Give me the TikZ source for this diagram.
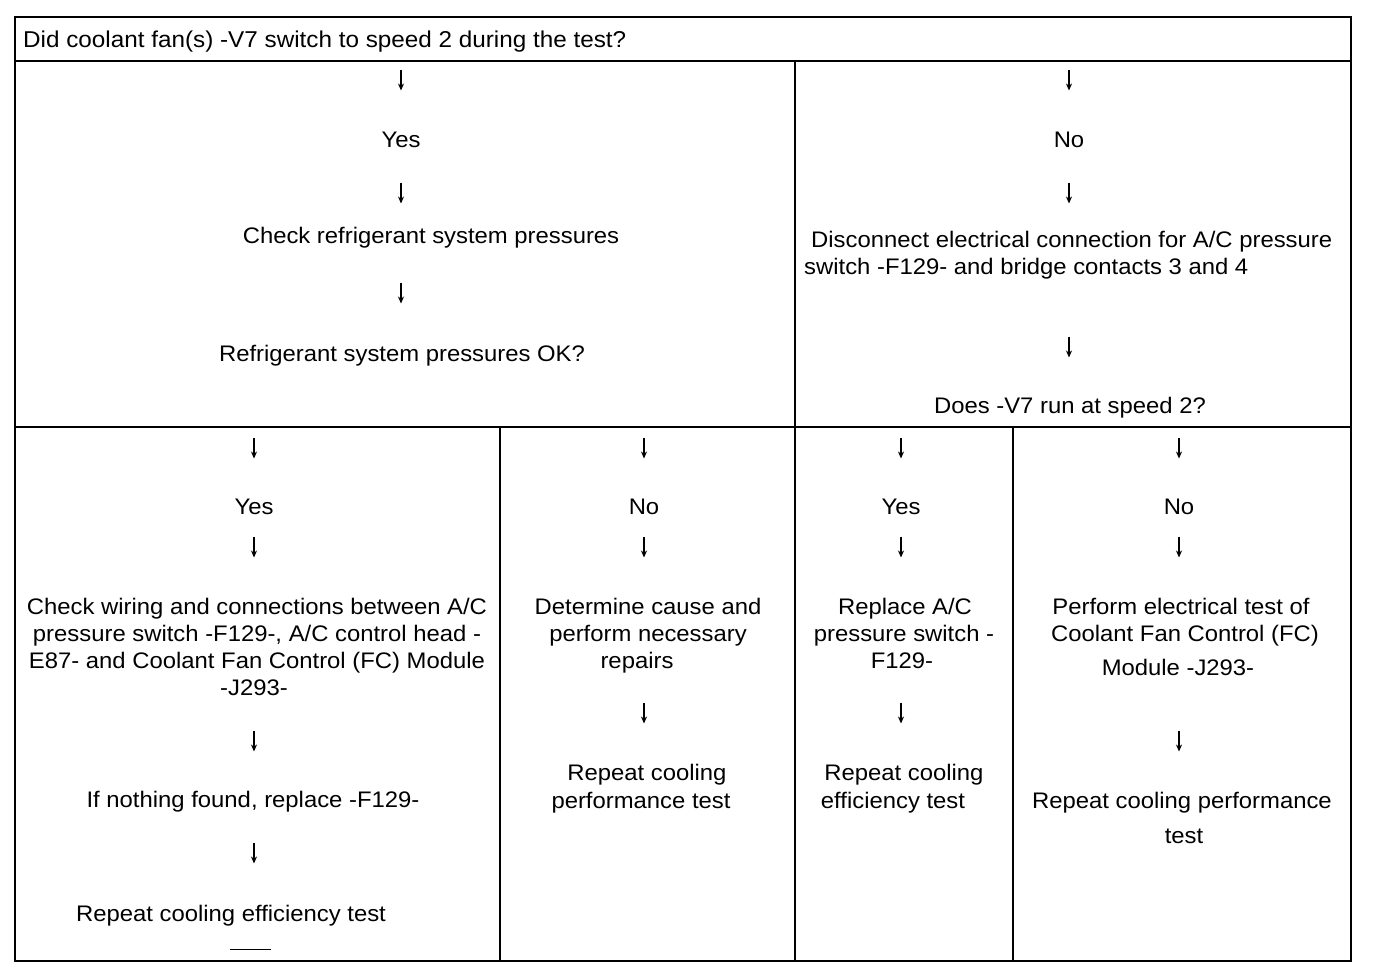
\documentclass[tikz,border=0pt]{standalone}
\usepackage{fontspec}
\setmainfont[FakeStretch=1.06]{Liberation Sans}
\usetikzlibrary{arrows.meta}
\tikzset{
  grid/.style={line width=2.8pt, line cap=rect},
  tx/.style={anchor=base, inner sep=0pt, font=\fontsize{22.5}{26}\selectfont},
  txw/.style={tx, anchor=base west},
  darr/.style={minimum width=10pt, minimum height=21pt, inner sep=0pt,
    path picture={\draw[line width=1.3pt,-{Stealth[length=7pt,width=6pt]}]
      (path picture bounding box.north) -- (path picture bounding box.south);}},
}
\begin{document}
\begin{tikzpicture}[x=1pt,y=-1pt]
\useasboundingbox (0,0) rectangle (1392,978);
% table frame
\draw[grid] (15,17) rectangle (1351,961);
\draw[grid] (15,61) -- (1351,61);
\draw[grid] (15,427) -- (1351,427);
\draw[grid] (795,61) -- (795,961);
\draw[grid] (500,427) -- (500,961);
\draw[grid] (1013,427) -- (1013,961);
\draw[line width=1pt] (230,949) -- (271,949);
% header
\node[txw, font=\fontsize{22.9}{26}\selectfont] (hdr) at (23,47) {Did coolant fan(s) -V7 switch to speed 2 during the test?};
% top left
\node[darr] (tl1) at (401,80) {};
\node[tx] (tlyes) at (401,147) {Yes};
\node[darr] (tl2) at (401,193) {};
\node[tx] (tlchk) at (431,243) {Check refrigerant system pressures};
\node[darr] (tl3) at (401,293) {};
\node[tx] (tlok) at (402,361) {Refrigerant system pressures OK?};
% top right
\node[darr] (tr1) at (1069,80) {};
\node[tx] (trno) at (1069,147) {No};
\node[darr] (tr2) at (1069,193) {};
\node[txw] (trd1) at (811,247) {Disconnect electrical connection for A/C pressure};
\node[txw] (trd2) at (804,274) {switch -F129- and bridge contacts 3 and 4};
\node[darr] (tr3) at (1069,347) {};
\node[tx] (trq) at (1070,413) {Does -V7 run at speed 2?};
% cell A
\node[darr] (a1) at (254,448) {};
\node[tx] (ayes) at (254,514) {Yes};
\node[darr] (a2) at (254,547) {};
\node[tx] (aw1) at (257,614) {Check wiring and connections between A/C};
\node[tx] (aw2) at (257,641) {pressure switch -F129-, A/C control head -};
\node[tx] (aw3) at (257,668) {E87- and Coolant Fan Control (FC) Module};
\node[tx] (aw4) at (254,695) {-J293-};
\node[darr] (a3) at (254,741) {};
\node[tx] (anf) at (253,807) {If nothing found, replace -F129-};
\node[darr] (a4) at (254,853) {};
\node[tx] (arep) at (231,921) {Repeat cooling efficiency test};
% cell B
\node[darr] (b1) at (644,448) {};
\node[tx] (bno) at (644,514) {No};
\node[darr] (b2) at (644,547) {};
\node[tx] (bd1) at (648,614) {Determine cause and};
\node[tx] (bd2) at (648,641) {perform necessary};
\node[tx] (bd3) at (637,668) {repairs};
\node[darr] (b3) at (644,713) {};
\node[tx] (br1) at (647,780) {Repeat cooling};
\node[tx] (br2) at (641,808) {performance test};
% cell C
\node[darr] (c1) at (901,448) {};
\node[tx] (cyes) at (901,514) {Yes};
\node[darr] (c2) at (901,547) {};
\node[tx] (cr1) at (905,614) {Replace A/C};
\node[tx] (cr2) at (904,641) {pressure switch -};
\node[tx] (cr3) at (902,668) {F129-};
\node[darr] (c3) at (901,713) {};
\node[tx] (cp1) at (904,780) {Repeat cooling};
\node[tx] (cp2) at (893,808) {efficiency test};
% cell D
\node[darr] (d1) at (1179,448) {};
\node[tx] (dno) at (1179,514) {No};
\node[darr] (d2) at (1179,547) {};
\node[tx] (dp1) at (1181,614) {Perform electrical test of};
\node[tx] (dp2) at (1185,641) {Coolant Fan Control (FC)};
\node[tx] (dp3) at (1178,675) {Module -J293-};
\node[darr] (d3) at (1179,741) {};
\node[tx] (dr1) at (1182,808) {Repeat cooling performance};
\node[tx] (dr2) at (1184,843) {test};
\end{tikzpicture}
\end{document}
